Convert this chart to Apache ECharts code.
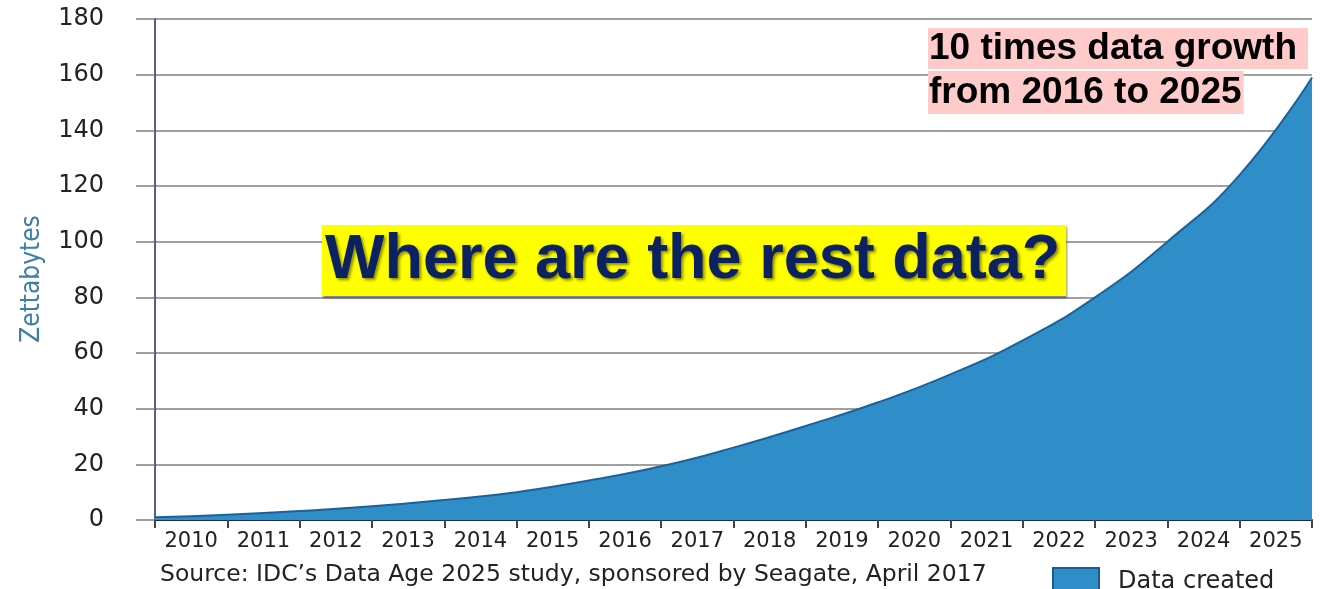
<!DOCTYPE html>
<html>
<head>
<meta charset="utf-8">
<script src="https://cdn.jsdelivr.net/npm/echarts@6/dist/echarts.min.js"></script>
<style>
  html, body { margin: 0; padding: 0; background: #ffffff; }
  #chart { width: 1322px; height: 589px; }
</style>
</head>
<body>
<div id="chart"></div>
<script>
// Year category labels (centred between boundaries)
const yearLabels = ['2010','2011','2012','2013','2014','2015','2016','2017','2018','2019','2020','2021','2022','2023','2024','2025'];
// Positions along the time axis (0 = start of 2010, 16 = end of 2025) where the curve was read
const samplePos = [0,1,2,3,4,5,6,7,8,9,10,11,12,13,14,15,16];
// Data created (zettabytes) at those positions
const zettabytes = [1.0,1.9,3.2,4.9,7.2,10.0,14.2,19.3,26.0,33.8,42.3,52.3,64.5,80.0,100.0,124.0,159.0];
// Y axis ticks
const yTicks = { min: 0, max: 180, interval: 20 };

const seriesData = samplePos.map((p, i) => [p, zettabytes[i]]);

const chart = echarts.init(document.getElementById('chart'), null, { renderer: 'canvas' });
const option = {
  animation: false,
  backgroundColor: '#ffffff',
  grid: { left: 155, right: 10, top: 19, bottom: 69, containLabel: false },
  xAxis: [
    {
      type: 'value', min: 0, max: 16, interval: 1, position: 'bottom',
      axisLine: { show: true, onZero: false, lineStyle: { color: '#1b2a5e', width: 2 } },
      axisTick: { show: true, length: 8, lineStyle: { color: '#444444', width: 2 } },
      axisLabel: { show: false },
      splitLine: { show: false }
    },
    {
      type: 'category', data: yearLabels, position: 'bottom', boundaryGap: true,
      axisLine: { show: false }, axisTick: { show: false },
      axisLabel: { fontFamily: 'DejaVu Sans', fontSize: 21, color: '#222222', margin: 11 },
      splitLine: { show: false }
    }
  ],
  yAxis: {
    type: 'value', min: yTicks.min, max: yTicks.max, interval: yTicks.interval,
    name: 'Zettabytes', nameLocation: 'middle', nameRotate: 90, nameGap: 110,
    nameTextStyle: { fontFamily: 'Liberation Sans Narrow, DejaVu Sans Condensed, Liberation Sans', fontSize: 26, color: '#3d7fa7', padding: [0, 19, 0, 0] },
    axisLine: { show: true, lineStyle: { color: '#1f2a5a', width: 1.5 } },
    axisTick: { show: true, length: 19, lineStyle: { color: '#808080', width: 1.5 } },
    axisLabel: { fontFamily: 'DejaVu Sans', fontSize: 24, color: '#222222', margin: 51 },
    splitLine: { show: true, lineStyle: { color: '#808080', width: 1.5 } }
  },
  legend: {
    data: [{ name: 'Data created', icon: 'rect' }],
    left: 1047, top: 562, itemWidth: 46, itemHeight: 28,
    itemStyle: { color: '#2f8ec7', borderColor: '#1d5a8f', borderWidth: 2 },
    textStyle: { fontFamily: 'DejaVu Sans', fontSize: 24, color: '#222222', padding: [0, 0, 0, 14] }
  },
  series: [{
    name: 'Data created',
    type: 'line',
    xAxisIndex: 0,
    data: seriesData,
    smooth: 0.5,
    symbol: 'none',
    lineStyle: { color: '#1d619a', width: 2 },
    itemStyle: { color: '#2f8ec7' },
    areaStyle: { color: '#2f8ec7', opacity: 1 },
    z: 3
  }],
  graphic: [
    {
      type: 'text', left: 160, top: 563, z: 10,
      style: { text: 'Source: IDC\u2019s Data Age 2025 study, sponsored by Seagate, April 2017', fontFamily: 'DejaVu Sans', fontSize: 23.5, fill: '#222222' }
    },
    {
      type: 'text', left: 322, top: 225, z: 10,
      style: {
        text: 'Where are the rest data?', fontFamily: 'Liberation Sans, Arial', fontWeight: 'bold', fontSize: 63,
        fill: '#0b2162', lineHeight: 71, backgroundColor: '#ffff00', padding: [0, 6, 0, 3],
        textShadowColor: 'rgba(0,0,0,0.45)', textShadowBlur: 3, textShadowOffsetX: 2, textShadowOffsetY: 2,
        shadowColor: 'rgba(0,0,0,0.5)', shadowBlur: 2, shadowOffsetX: 1, shadowOffsetY: 2
      }
    },
    {
      type: 'text', left: 928, top: 28, z: 10,
      style: {
        text: '10 times data growth', fontFamily: 'Liberation Sans, Arial', fontWeight: 'bold', fontSize: 37,
        fill: '#000000', lineHeight: 41, backgroundColor: '#ffcaca', padding: [0, 11, 0, 1]
      }
    },
    {
      type: 'text', left: 928, top: 71, z: 10,
      style: {
        text: 'from 2016 to 2025', fontFamily: 'Liberation Sans, Arial', fontWeight: 'bold', fontSize: 37,
        fill: '#000000', lineHeight: 43, backgroundColor: '#ffcaca', padding: [0, 2, 0, 1]
      }
    }
  ]
};
chart.setOption(option);
</script>
</body>
</html>
